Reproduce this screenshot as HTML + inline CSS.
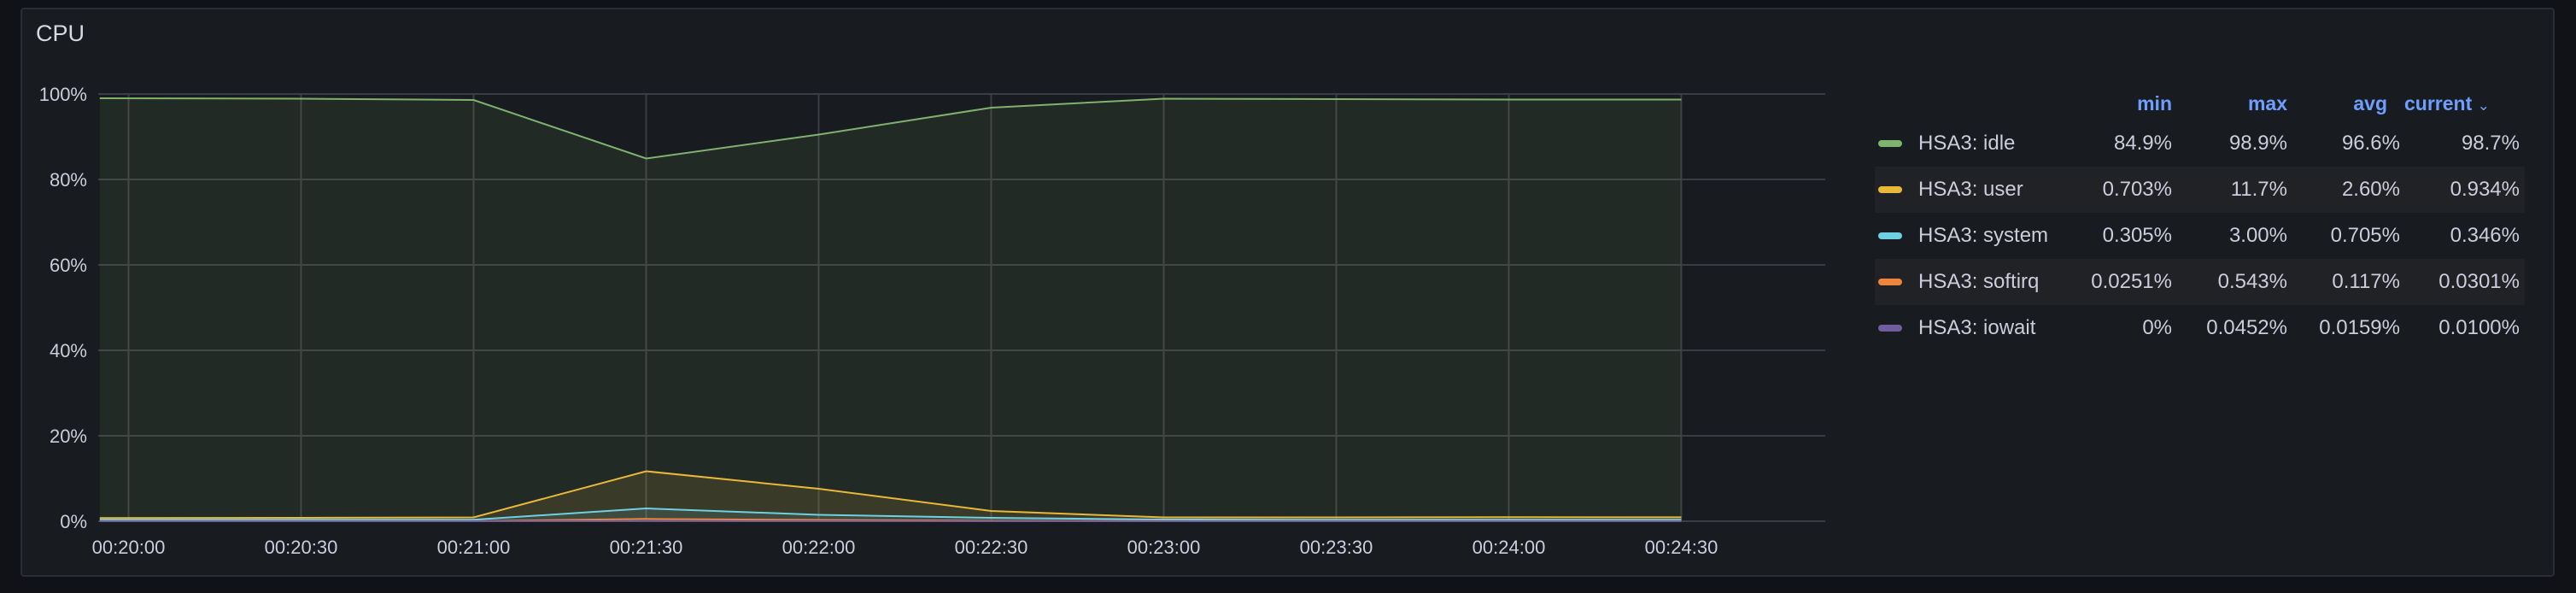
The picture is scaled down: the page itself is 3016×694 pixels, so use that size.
<!DOCTYPE html>
<html><head><meta charset="utf-8"><style>
body{margin:0;background:#111217;width:3016px;height:694px;overflow:hidden;font-family:"Liberation Sans",sans-serif;}
#panel{position:absolute;left:24px;top:9px;width:2967px;height:666px;background:#181b1f;border:2px solid #2a2d33;border-radius:4px;box-sizing:border-box;}
#title{position:absolute;left:42px;top:24px;font-size:27px;color:#d8d9e3;}
.hd{position:absolute;font-size:23px;color:#6e9fff;font-weight:bold;top:108px;}
.row{position:absolute;left:2195px;width:761px;height:54px;}
.sw{position:absolute;left:4px;top:23px;width:28px;height:8px;border-radius:4px;}
.nm{position:absolute;left:51px;top:13px;font-size:24px;color:#ccccdc;}
.v{position:absolute;top:13px;font-size:24px;color:#ccccdc;text-align:right;width:150px;}
</style></head><body>
<div id="panel"></div>
<div id="title">CPU</div>
<svg id="chart" width="3016" height="694" style="position:absolute;left:0;top:0"></svg>
<div id="legend"></div>
<script>
const times=[-5,30,60,90,120,150,180,210,240,270];
const idle=[99.0,98.9,98.6,84.9,90.5,96.8,98.9,98.8,98.7,98.7];
const user=[0.75,0.8,0.9,11.7,7.6,2.4,0.9,0.9,0.95,0.93];
const system=[0.35,0.35,0.35,3.0,1.5,0.8,0.4,0.35,0.35,0.35];
const softirq=[0.03,0.03,0.03,0.54,0.3,0.1,0.04,0.03,0.03,0.03];
const iowait=[0.01,0.01,0.01,0.045,0.03,0.01,0.0,0.01,0.01,0.01];
const yTicks=[0,20,40,60,80,100];
const xTicks=["00:20:00","00:20:30","00:21:00","00:21:30","00:22:00","00:22:30","00:23:00","00:23:30","00:24:00","00:24:30"];
const names=["HSA3: idle","HSA3: user","HSA3: system","HSA3: softirq","HSA3: iowait"];
const mins=["84.9%","0.703%","0.305%","0.0251%","0%"];
const maxs=["98.9%","11.7%","3.00%","0.543%","0.0452%"];
const avgs=["96.6%","2.60%","0.705%","0.117%","0.0159%"];
const curs=["98.7%","0.934%","0.346%","0.0301%","0.0100%"];
const colors=["#7eb26d","#eab839","#6ed0e0","#ef843c","#705da0"];
const X=s=>150.5+s*202/30, Y=v=>610-v*5;
const NS="http://www.w3.org/2000/svg";
const svg=document.getElementById('chart');
function mk(t,a){const e=document.createElementNS(NS,t);for(const k in a)e.setAttribute(k,a[k]);svg.appendChild(e);return e;}
yTicks.forEach(v=>{
  const l=mk('line',{x1:115,x2:2137,y1:Y(v),y2:Y(v),stroke:'#3a3d43','stroke-width':2});
  
  
  const t=mk('text',{x:102,y:Y(v)+8,'text-anchor':'end',fill:'#ccccdc','font-size':22,'font-family':'Liberation Sans'});
  t.textContent=v+'%';
  
  
});
xTicks.forEach((s,i)=>{
  const x=X(i*30);
  const l=mk('line',{x1:x,x2:x,y1:110,y2:610,stroke:'#3a3d43','stroke-width':2});
  
  
  const t=mk('text',{x:x,y:648,'text-anchor':'middle',fill:'#ccccdc','font-size':22,'font-family':'Liberation Sans'});
  t.textContent=s;
  
  
});
const series=[idle,user,system,softirq,iowait];
const fills=["rgba(126,178,109,0.1)","rgba(234,184,57,0.12)","rgba(110,208,224,0.12)","rgba(239,132,60,0.12)","rgba(112,93,160,0.12)"];
series.forEach((d,k)=>{
  const pts=d.map((v,i)=>X(times[i]).toFixed(1)+','+Y(v).toFixed(1));
  const a=mk('polygon',{points:X(times[0])+','+Y(0)+' '+pts.join(' ')+' '+X(times[times.length-1])+','+Y(0),fill:fills[k]});
  
  
  const p=mk('polyline',{points:pts.join(' '),fill:'none',stroke:colors[k],'stroke-width':2});
  
  
});
const lg=document.getElementById('legend');
const hx=[['min',2543],['max',2678],['avg',2795]];
hx.forEach(h=>{const d=document.createElement('div');d.className='hd';d.style.left=(h[1]-150)+'px';d.style.width='150px';d.style.textAlign='right';d.textContent=h[0];


lg.appendChild(d);});
const c=document.createElement('div');c.className='hd';c.style.left='2815px';c.innerHTML='current <span style="font-size:17px;font-weight:normal">⌄</span>';


lg.appendChild(c);
names.forEach((n,i)=>{
  const r=document.createElement('div');r.className='row';r.style.top=(141+i*54)+'px';
  if(i%2==1)r.style.background='#202226';
  
  
  r.innerHTML='<div class="sw" style="background:'+colors[i]+'"></div><div class="nm">'+n+'</div>'+
  [mins[i],maxs[i],avgs[i],curs[i]].map((v,j)=>'<div class="v" style="left:'+([2543,2678,2810,2950][j]-2195-150)+'px">'+v+'</div>').join('');
  lg.appendChild(r);
});
</script>
</body></html>
